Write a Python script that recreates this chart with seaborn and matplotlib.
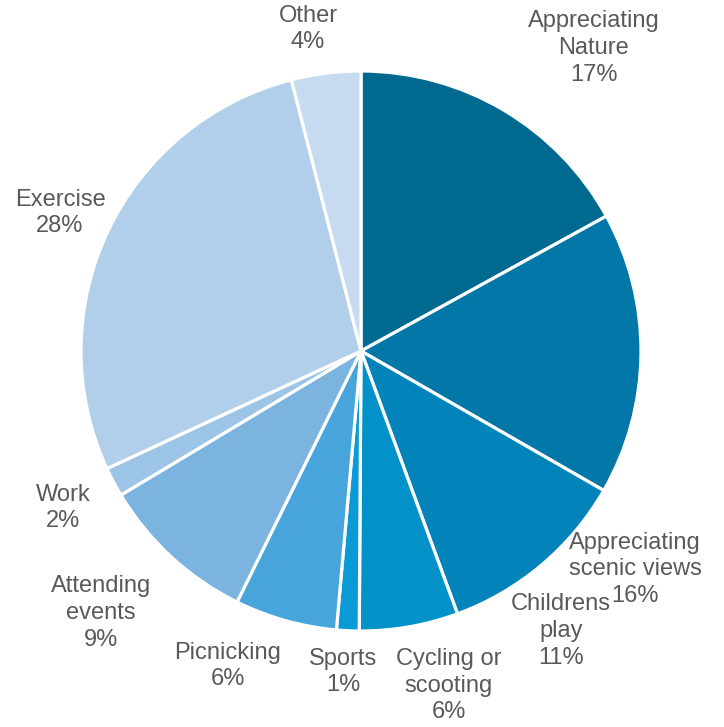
import matplotlib
matplotlib.use("Agg")
import matplotlib.pyplot as plt
import seaborn as sns

categories = ['Appreciating\nNature', 'Appreciating\nscenic views', 'Childrens\nplay',
              'Cycling or\nscooting', 'Sports', 'Picnicking', 'Attending\nevents',
              'Work', 'Exercise', 'Other']
shares = [17.0, 16.3, 11.1, 5.7, 1.3, 5.9, 9.1, 1.7, 27.9, 4.0]
colors = ['#00698F', '#0277A8', '#0284BA', '#0391C9', '#0A9AD6',
          '#48A5DB', '#7BB4DF', '#9CC4E7', '#B1CFEA', '#C6DBF0']

# label placement (radius units, pie centre at origin)
label_pos = [(0.832, 1.082), (0.979, -0.779), (0.715, -1.0), (0.314, -1.196),
             (-0.064, -1.146), (-0.475, -1.125), (-0.929, -0.936), (-1.064, -0.561),
             (-1.075, 0.493), (-0.189, 1.150)]

sns.set_theme(style='white')
plt.rcParams['font.family'] = ['Liberation Sans', 'DejaVu Sans']

fig = plt.figure(figsize=(7.24, 7.27), dpi=100)
ax = fig.add_axes([0, 0, 1, 1])
r_px = 280
cx, cy = 361, 351
ax.pie(shares, colors=sns.color_palette(colors), startangle=90, counterclock=False,
       radius=1, wedgeprops=dict(edgecolor='white', linewidth=2.3))
for name, val, (x, y) in zip(categories, shares, label_pos):
    ax.text(x, y, f'{name}\n{round(val)}%', ha='center', va='center',
            multialignment='center', fontsize=17, color='#595959', linespacing=1.27)
ax.set_xlim(-cx / r_px, (724 - cx) / r_px)
ax.set_ylim(-(727 - cy) / r_px, cy / r_px)
ax.set_aspect('equal')
ax.axis('off')
fig.savefig('out.png', dpi=100)
